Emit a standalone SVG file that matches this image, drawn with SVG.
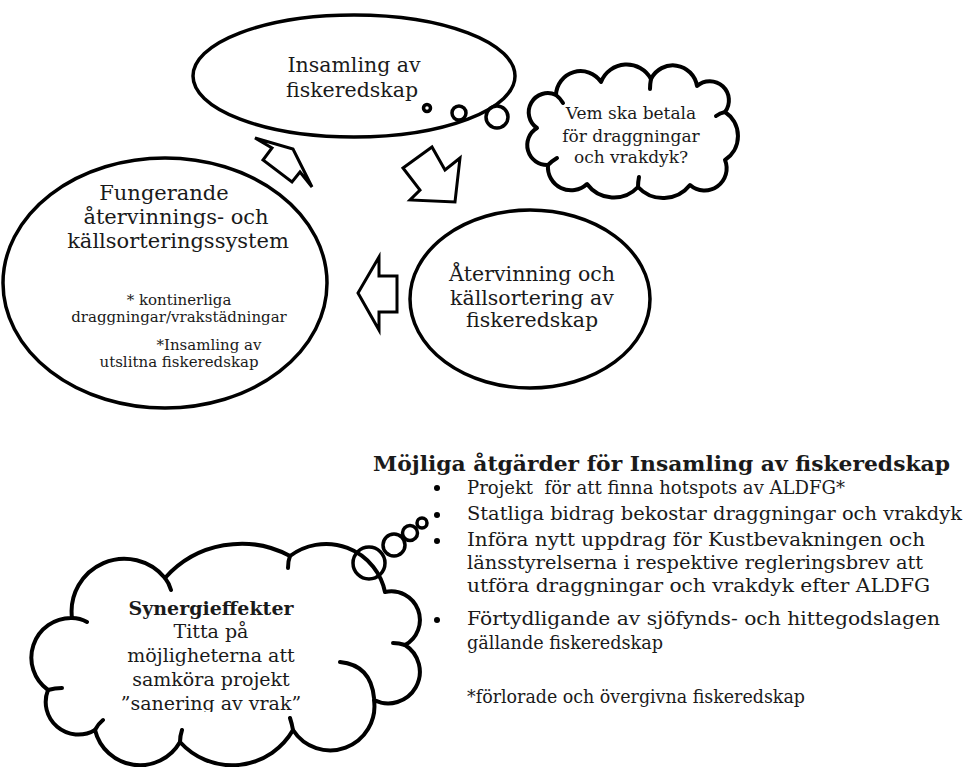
<svg xmlns="http://www.w3.org/2000/svg" width="974" height="767" viewBox="0 0 974 767">
  <style>
    .shape { fill: #ffffff; stroke: #000000; stroke-width: 3.5; }
    .cloud { fill: #ffffff; stroke: #000000; stroke-width: 4; stroke-linejoin: round; }
    .tick { fill: none; stroke: #000000; stroke-width: 4; stroke-linecap: round; }
    .bubble { fill: #ffffff; stroke: #000000; stroke-width: 3.5; }
    .ring { fill: none; stroke: #000000; stroke-width: 3.5; }
    .arrow { fill: #ffffff; stroke: #000000; stroke-width: 3; stroke-linejoin: miter; }
    text { font-family: "DejaVu Serif", "Liberation Serif", serif; fill: #1a1a1a; }
    .c { text-anchor: middle; }
    .big { font-size: 20.5px; }
    .mid { font-size: 21px; }
    .small { font-size: 15px; }
    .cloudtxt { font-size: 17px; }
    .syn { font-size: 19px; }
    .list { font-size: 19px; }
    .head { font-size: 21px; font-weight: bold; }
    .bold { font-weight: bold; }
  </style>
  <defs>
    <clipPath id="cloudTextClip">
      <rect x="60" y="585" width="320" height="127"/>
    </clipPath>
  </defs>

  <!-- cycle connectors (block arrows) -->
  <g id="connectors">
    <polygon class="arrow" points="255,138 293,149 302,167 312,187 300,172 292,182 263,160 272,148"/>
    <polygon class="arrow" points="403,168 432,147 445,170 460,158 455,202 410,200 420,190"/>
    <polygon class="arrow" points="358,293 379,257 379,276 397,276 397,312 379,312 379,330"/>
  </g>

  <!-- Insamling -->
  <g id="insamling">
    <ellipse class="shape" cx="354" cy="76" rx="161" ry="61"/>
    <circle class="bubble" cx="427" cy="108" r="3.5"/>
    <circle class="bubble" cx="459" cy="113" r="7"/>
    <circle class="bubble" cx="497" cy="117" r="11"/>
    <text class="c big" x="354" y="72">Insamling av</text>
    <text class="c big" x="352" y="97">fiskeredskap</text>
  </g>

  <!-- question cloud -->
  <g id="fraga">
    <path class="cloud" d="M537,128 A19.1,19.1 0 0 1 556,95 A24.6,24.6 0 0 1 601,82 A27.6,27.6 0 0 1 651,79 A24.4,24.4 0 0 1 697,86 A19.2,19.2 0 0 1 725,112 A28.7,28.7 0 0 1 725,160 A22.1,22.1 0 0 1 690,185 A34.2,34.2 0 0 1 638,187 A33.2,33.2 0 0 1 587,184 A23.2,23.2 0 0 1 548,165 A19.9,19.9 0 0 1 537,128 Z"/>
    <path class="tick" d="M556,95 q4,3 7,8 M548,165 q4,-4 9,-7 M651,79 q-1,5 -1,10 M638,187 q0,-5 1,-10 M725,112 q-5,1 -9,4"/>
    <text class="c cloudtxt" x="631" y="119">Vem ska betala</text>
    <text class="c cloudtxt" x="631" y="142">för draggningar</text>
    <text class="c cloudtxt" x="631" y="163">och vrakdyk?</text>
  </g>

  <!-- Fungerande system -->
  <g id="fungerande">
    <ellipse class="shape" cx="165" cy="283" rx="162" ry="125"/>
    <text class="c mid" x="164" y="200">Fungerande</text>
    <text class="c mid" x="176" y="224">återvinnings- och</text>
    <text class="c mid" x="178" y="248">källsorteringssystem</text>
    <text class="c small" x="179" y="305">* kontinerliga</text>
    <text class="c small" x="179" y="322">draggningar/vrakstädningar</text>
    <text class="c small" x="209" y="350">*Insamling av</text>
    <text class="c small" x="179" y="367">utslitna fiskeredskap</text>
  </g>

  <!-- Återvinning -->
  <g id="atervinning">
    <ellipse class="shape" cx="530" cy="299" rx="120" ry="89"/>
    <text class="c big" x="532" y="281">Återvinning och</text>
    <text class="c big" x="532" y="305">källsortering av</text>
    <text class="c big" x="532" y="327">fiskeredskap</text>
  </g>

  <!-- list of measures -->
  <g id="atgarder">
    <text class="head" x="373" y="471" textLength="577" lengthAdjust="spacingAndGlyphs">Möjliga åtgärder för Insamling av fiskeredskap</text>
    <circle cx="437" cy="488" r="3"/>
    <circle cx="437" cy="515" r="3"/>
    <circle cx="437" cy="541" r="3"/>
    <circle cx="437" cy="620" r="3"/>
    <text class="list" x="467" y="494" xml:space="preserve" textLength="378" lengthAdjust="spacingAndGlyphs">Projekt  för att finna hotspots av ALDFG*</text>
    <text class="list" x="467" y="520" textLength="495" lengthAdjust="spacingAndGlyphs">Statliga bidrag bekostar draggningar och vrakdyk</text>
    <text class="list" x="467" y="546" textLength="458" lengthAdjust="spacingAndGlyphs">Införa nytt uppdrag för Kustbevakningen och</text>
    <text class="list" x="467" y="569" textLength="456" lengthAdjust="spacingAndGlyphs">länsstyrelserna i respektive regleringsbrev att</text>
    <text class="list" x="467" y="592" textLength="463" lengthAdjust="spacingAndGlyphs">utföra draggningar och vrakdyk efter ALDFG</text>
    <text class="list" x="467" y="625" textLength="473" lengthAdjust="spacingAndGlyphs">Förtydligande av sjöfynds- och hittegodslagen</text>
    <text class="list" x="467" y="649" textLength="196" lengthAdjust="spacingAndGlyphs">gällande fiskeredskap</text>
    <text class="list" x="467" y="703" textLength="338" lengthAdjust="spacingAndGlyphs">*förlorade och övergivna fiskeredskap</text>
  </g>

  <!-- synergy cloud -->
  <g id="synergi">
    <path class="cloud" d="M48,690 A39.7,39.7 0 0 1 72,618 A52.7,52.7 0 0 1 165,578 A102.5,102.5 0 0 1 290,556 A60.1,60.1 0 0 1 385,592 A28.6,28.6 0 0 1 405,645 A31.6,31.6 0 0 1 374,700 A44.2,44.2 0 0 1 293,730 A70.1,70.1 0 0 1 180,742 A46.2,46.2 0 0 1 95,730 A32.6,32.6 0 0 1 48,690 Z"/>
    <path class="tick" d="M72,618 q8,0 15,4 M165,578 q4,5 6,12 M290,556 q-2,5 -2,12 M405,645 q-6,-2 -12,-2 M293,730 q-1,-6 -3,-12 M180,742 q0,-6 2,-12 M95,730 q3,-6 8,-10 M48,690 q7,-2 14,-2 M340,662 C360,664 372,676 374,698"/>
    <circle class="ring" cx="369" cy="563" r="16"/>
    <circle class="ring" cx="394" cy="545" r="11"/>
    <circle class="ring" cx="410" cy="533" r="7.5"/>
    <circle class="ring" cx="422" cy="523" r="5"/>
    <g clip-path="url(#cloudTextClip)">
      <text class="c syn bold" x="211" y="615">Synergieffekter</text>
      <text class="c syn" x="211" y="638">Titta på</text>
      <text class="c syn" x="211" y="662">möjligheterna att</text>
      <text class="c syn" x="211" y="686">samköra projekt</text>
      <text class="c syn" x="211" y="710">”sanering av vrak”</text>
    </g>
  </g>
</svg>
